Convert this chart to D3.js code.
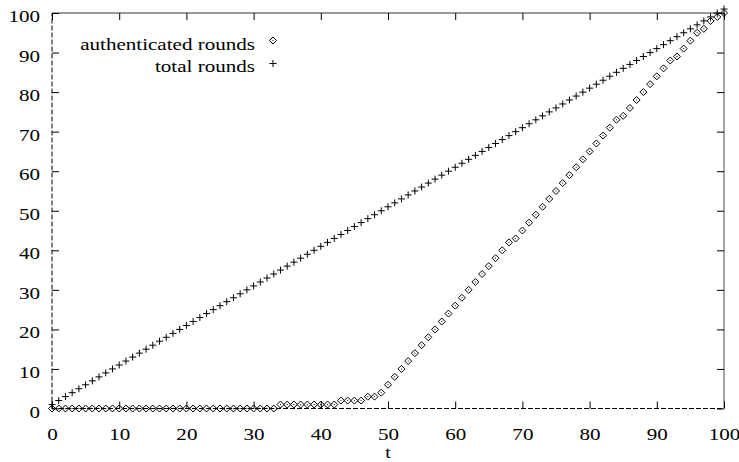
<!DOCTYPE html>
<html>
<head>
<meta charset="utf-8">
<script src="https://cdn.jsdelivr.net/npm/d3@7"></script>
<style>
  body { margin: 0; background: #fff; }
  text { font-family: "Liberation Serif", "Times New Roman", serif; fill: #000; }
</style>
</head>
<body>
<svg id="chart" width="739" height="462"></svg>
<script>
// t values (x axis)
const tValues = [
  0, 1, 2, 3, 4, 5, 6, 7, 8, 9, 10, 11, 12, 13, 14, 15, 16, 17, 18, 19,
  20, 21, 22, 23, 24, 25, 26, 27, 28, 29, 30, 31, 32, 33, 34, 35, 36, 37, 38, 39,
  40, 41, 42, 43, 44, 45, 46, 47, 48, 49, 50, 51, 52, 53, 54, 55, 56, 57, 58, 59,
  60, 61, 62, 63, 64, 65, 66, 67, 68, 69, 70, 71, 72, 73, 74, 75, 76, 77, 78, 79,
  80, 81, 82, 83, 84, 85, 86, 87, 88, 89, 90, 91, 92, 93, 94, 95, 96, 97, 98, 99, 100
];

// authenticated rounds (diamonds)
const authenticated = [
  0, 0, 0, 0, 0, 0, 0, 0, 0, 0,
  0, 0, 0, 0, 0, 0, 0, 0, 0, 0,
  0, 0, 0, 0, 0, 0, 0, 0, 0, 0,
  0, 0, 0, 0, 1, 1, 1, 1, 1, 1,
  1, 1, 1, 2, 2, 2, 2, 3, 3, 4,
  6, 8, 10, 12, 14, 16, 18, 20, 22, 24,
  26, 28, 30, 32, 34, 36, 38, 40, 42, 43,
  45, 47, 49, 51, 53, 55, 57, 59, 61, 63,
  65, 67, 69, 71, 73, 74, 76, 78, 80, 82,
  84, 86, 88, 89, 91, 93, 95, 96, 98, 99,
  100
];

// total rounds (plus signs)
const totalRounds = [
  1, 2, 3, 4, 5, 6, 7, 8, 9, 10,
  11, 12, 13, 14, 15, 16, 17, 18, 19, 20,
  21, 22, 23, 24, 25, 26, 27, 28, 29, 30,
  31, 32, 33, 34, 35, 36, 37, 38, 39, 40,
  41, 42, 43, 44, 45, 46, 47, 48, 49, 50,
  51, 52, 53, 54, 55, 56, 57, 58, 59, 60,
  61, 62, 63, 64, 65, 66, 67, 68, 69, 70,
  71, 72, 73, 74, 75, 76, 77, 78, 79, 80,
  81, 82, 83, 84, 85, 86, 87, 88, 89, 90,
  91, 92, 93, 94, 95, 96, 97, 98, 99, 100,
  101
];

const xTicks = [0, 10, 20, 30, 40, 50, 60, 70, 80, 90, 100];
const yTicks = [0, 10, 20, 30, 40, 50, 60, 70, 80, 90, 100];
const legendLabels = ["authenticated rounds", "total rounds"];

// layout
const plotLeft = 52, plotRight = 724, plotTop = 13, plotBottom = 408.5;
const fontSize = 17;
const stretchX = 1.24; // the original font is wider than it is tall

const svg = d3.select("#chart");
svg.append("rect").attr("width", 739).attr("height", 462).attr("fill", "#fff");

const x = d3.scaleLinear().domain([0, 100]).range([plotLeft, plotRight]);
const y = d3.scaleLinear().domain([0, 100]).range([plotBottom, plotTop]);

// widen text horizontally around its x anchor
function stretch(sel) {
  sel.each(function() {
    const x0 = +this.getAttribute("x") || 0;
    this.setAttribute("transform",
      "translate(" + x0 + ",0) scale(" + stretchX + ",1) translate(" + (-x0) + ",0)");
  });
}

// border: top solid, right grey
svg.append("line")
  .attr("x1", plotLeft).attr("x2", plotRight).attr("y1", plotTop).attr("y2", plotTop)
  .attr("stroke", "#333").attr("stroke-width", 1);
svg.append("line")
  .attr("x1", plotRight).attr("x2", plotRight).attr("y1", plotTop).attr("y2", plotBottom)
  .attr("stroke", "#888").attr("stroke-width", 1.5);

// zero axes, dashed
svg.append("line")
  .attr("x1", x(0)).attr("x2", x(100)).attr("y1", y(0)).attr("y2", y(0))
  .attr("stroke", "#000").attr("stroke-width", 1)
  .attr("stroke-dasharray", "5,2");
svg.append("line")
  .attr("x1", x(0)).attr("x2", x(0)).attr("y1", y(0)).attr("y2", y(100))
  .attr("stroke", "#000").attr("stroke-width", 1)
  .attr("stroke-dasharray", "5,2");

// x axis bottom
const xAxis = svg.append("g")
  .attr("transform", "translate(0," + plotBottom + ")")
  .call(d3.axisBottom(x).tickValues(xTicks).tickSize(-7).tickPadding(19.5));
xAxis.select(".domain").remove();
xAxis.selectAll("text").attr("font-size", fontSize).call(stretch);

// mirrored ticks on top
const xTop = svg.append("g")
  .attr("transform", "translate(0," + plotTop + ")")
  .call(d3.axisTop(x).tickValues(xTicks).tickSize(-7).tickFormat(""));
xTop.select(".domain").remove();

// y axis left
const yAxis = svg.append("g")
  .attr("transform", "translate(" + plotLeft + ",0)")
  .call(d3.axisLeft(y).tickValues(yTicks).tickSize(-7).tickPadding(12));
yAxis.select(".domain").remove();
yAxis.selectAll("text")
  .attr("font-size", fontSize)
  .attr("dy", "0.5em")
  .call(stretch);

// mirrored ticks on right
const yRight = svg.append("g")
  .attr("transform", "translate(" + plotRight + ",0)")
  .call(d3.axisRight(y).tickValues(yTicks).tickSize(-7).tickFormat(""));
yRight.select(".domain").remove();

svg.selectAll(".tick line").attr("stroke", "#000");

// x label
svg.append("text")
  .attr("x", (plotLeft + plotRight) / 2)
  .attr("y", 458)
  .attr("text-anchor", "middle")
  .attr("font-size", 16)
  .text("t")
  .call(stretch);

// marker shapes
const plus = "M-3.5,0H3.5M0,-3.5V3.5";

function drawDiamond(g, cx, cy) {
  g.append("path")
    .attr("d", "M" + cx + "," + (cy - 3.5) + "L" + (cx + 3.5) + "," + cy +
      "L" + cx + "," + (cy + 3.5) + "L" + (cx - 3.5) + "," + cy + "Z")
    .attr("fill", "none").attr("stroke", "#000").attr("stroke-width", 1);
  g.append("rect")
    .attr("x", cx - 0.5).attr("y", cy - 0.5).attr("width", 1).attr("height", 1)
    .attr("fill", "#000");
}

const authData = tValues.map((t, i) => ({ t: t, v: authenticated[i] }));
const totalData = tValues.map((t, i) => ({ t: t, v: totalRounds[i] }));

const authG = svg.append("g");
authData.forEach(d => drawDiamond(authG, x(d.t), y(d.v)));

svg.append("g")
  .selectAll("path")
  .data(totalData)
  .enter()
  .append("path")
  .attr("transform", d => "translate(" + x(d.t) + "," + y(d.v) + ")")
  .attr("d", plus)
  .attr("stroke", "#000")
  .attr("stroke-width", 1)
  .attr("fill", "none");

// legend
const legendTextX = 255, legendMarkX = 273;
const legendY = [50, 72];

svg.append("g")
  .selectAll("text")
  .data(legendLabels)
  .enter()
  .append("text")
  .attr("x", legendTextX)
  .attr("y", (d, i) => legendY[i])
  .attr("text-anchor", "end")
  .attr("font-size", fontSize)
  .text(d => d)
  .call(stretch);

const legG = svg.append("g");
drawDiamond(legG, legendMarkX, legendY[0] - 9.5);
legG.append("path")
  .attr("transform", "translate(" + legendMarkX + "," + (legendY[1] - 8.5) + ")")
  .attr("d", plus)
  .attr("stroke", "#000")
  .attr("stroke-width", 1);
</script>
</body>
</html>
